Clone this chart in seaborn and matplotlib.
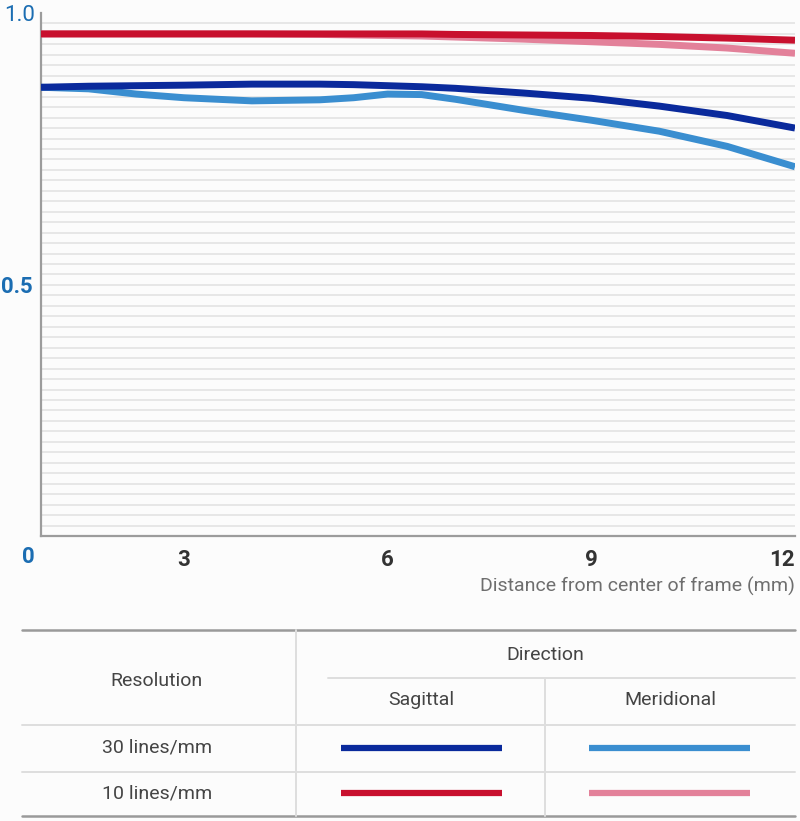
import numpy as np
import pandas as pd
import matplotlib
matplotlib.use("Agg")
import matplotlib.pyplot as plt
import matplotlib.transforms as mtrans
import seaborn as sns

# ---------------- data ----------------
distance_mm = [0, 1, 2, 3, 4, 5, 5.5, 6, 6.5, 7, 8, 9, 10, 11, 12]
sagittal_30 = [0.858, 0.860, 0.861, 0.862, 0.864, 0.864, 0.863, 0.861, 0.859, 0.856, 0.847, 0.837, 0.822, 0.804, 0.780]
meridional_30 = [0.858, 0.855, 0.845, 0.838, 0.832, 0.834, 0.838, 0.845, 0.844, 0.835, 0.814, 0.795, 0.774, 0.745, 0.706]
sagittal_10 = [0.960, 0.960, 0.960, 0.960, 0.960, 0.960, 0.960, 0.960, 0.960, 0.959, 0.958, 0.957, 0.955, 0.952, 0.948]
meridional_10 = [0.960, 0.960, 0.960, 0.960, 0.960, 0.959, 0.958, 0.957, 0.956, 0.954, 0.950, 0.945, 0.940, 0.933, 0.923]

series_names = ["30 M", "10 M", "30 S", "10 S"]
series_colors = {"30 S": "#0a2a9c", "30 M": "#3a8ed0", "10 S": "#c8102e", "10 M": "#e3819a"}
x_tick_labels = ["3", "6", "9", "12"]
x_ticks = [3, 6, 9, 12]
y_ticks = [0.5, 1.0]
y_tick_labels = ["0.5", "1.0"]
row_labels = ["30 lines/mm", "10 lines/mm"]
direction_labels = ["Sagittal", "Meridional"]

df = pd.concat([
    pd.DataFrame({"x": distance_mm, "y": meridional_30, "series": "30 M"}),
    pd.DataFrame({"x": distance_mm, "y": meridional_10, "series": "10 M"}),
    pd.DataFrame({"x": distance_mm, "y": sagittal_30, "series": "30 S"}),
    pd.DataFrame({"x": distance_mm, "y": sagittal_10, "series": "10 S"}),
])

# ---------------- style ----------------
sns.set_theme(style="white")
plt.rcParams["font.family"] = ["Roboto", "DejaVu Sans"]
BG = "#fcfcfc"

fig = plt.figure(figsize=(8, 8.21), dpi=100, facecolor=BG)
W, H = 800, 821
ax = fig.add_axes([41 / W, 1 - 536 / H, (795 - 41) / W, (536 - 13) / H])
ax.set_facecolor(BG)

# x axis: first 3 mm segment is drawn compressed in the original chart
seg0 = 143.0
seg = 203.7

def fwd(x):
    x = np.asarray(x, dtype=float)
    return np.where(x < 3, x * seg0 / 3, seg0 + (x - 3) * seg / 3)

def inv(p):
    p = np.asarray(p, dtype=float)
    return np.where(p < seg0, p * 3 / seg0, 3 + (p - seg0) * 3 / seg)

ax.set_xscale("function", functions=(fwd, inv))

sns.lineplot(data=df, x="x", y="y", hue="series", hue_order=series_names,
             palette=series_colors, linewidth=5, legend=False, sort=False,
             estimator=None, ax=ax, solid_capstyle="butt", solid_joinstyle="round", zorder=3)

ax.set_xlim(0, 12)
ax.set_ylim(0, 1.0)

# grid
ax.yaxis.remove_overlapping_locs = False
ax.set_yticks(np.arange(0.02, 0.99, 0.02), minor=True)
ax.set_xticks([3, 6, 9], minor=True)
ax.grid(False)
ax.grid(which="minor", axis="y", color="#e3e3e3", linewidth=1.2, zorder=0)
ax.grid(which="minor", axis="x", color="#dedede", linewidth=1.4, zorder=0)

ax.set_xticks(x_ticks)
ax.set_xticklabels(x_tick_labels, fontsize=16, fontweight="bold", color="#333333")
ax.set_yticks(y_ticks)
ax.set_yticklabels(y_tick_labels, fontsize=16, color="#1b6db2")
ax.tick_params(axis="both", which="both", length=0)
ax.tick_params(axis="x", pad=9)
ax.tick_params(axis="y", pad=6)
for lbl in ax.get_yticklabels():
    if lbl.get_text() == "0.5":
        lbl.set_fontweight("bold")
        lbl.set_transform(lbl.get_transform() + mtrans.ScaledTranslation(0, -10 / 100, fig.dpi_scale_trans))
    else:
        lbl.set_transform(lbl.get_transform() + mtrans.ScaledTranslation(2 / 100, 0, fig.dpi_scale_trans))
for lbl in ax.get_xticklabels():
    if lbl.get_text() == "12":
        lbl.set_horizontalalignment("right")

ax.annotate("0", xy=(0, 0), xytext=(-13, -21), textcoords="offset pixels",
            ha="center", va="center", fontsize=16, fontweight="bold", color="#1b6db2")

for s in ["top", "right"]:
    ax.spines[s].set_visible(False)
for s in ["left", "bottom"]:
    ax.spines[s].set_color("#9c9c9c")
    ax.spines[s].set_linewidth(1.6)

ax.set_xlabel("")
ax.set_ylabel("")
fig.text(795 / W, 1 - 586 / H, "Distance from center of frame (mm)", ha="right", va="center",
         fontsize=14, color="#6e6e6e")

# ---------------- legend table ----------------
tab = fig.add_axes([0, 0, 1, 1], zorder=-1)
tab.set_xlim(0, W)
tab.set_ylim(H, 0)
tab.axis("off")

dark = "#9a9a9a"
light = "#dedede"
tab.plot([22, 795], [630, 630], color=dark, lw=1.8)
tab.plot([22, 795], [816, 816], color=dark, lw=1.8)
tab.plot([328, 795], [678, 678], color=light, lw=1.4)
tab.plot([22, 795], [725, 725], color=light, lw=1.4)
tab.plot([22, 795], [772, 772], color=light, lw=1.4)
tab.plot([296, 296], [630, 816], color=light, lw=1.4)
tab.plot([545, 545], [678, 816], color=light, lw=1.4)

tc = "#444444"
fs = 14
tab.text(157, 681, "Resolution", ha="center", va="center", fontsize=fs, color=tc)
tab.text(545, 655, "Direction", ha="center", va="center", fontsize=fs, color=tc)
tab.text(421, 700, direction_labels[0], ha="center", va="center", fontsize=fs, color=tc)
tab.text(670, 700, direction_labels[1], ha="center", va="center", fontsize=fs, color=tc)
tab.text(157, 748, row_labels[0], ha="center", va="center", fontsize=fs, color=tc)
tab.text(157, 793, row_labels[1], ha="center", va="center", fontsize=fs, color=tc)

tab.plot([341, 502], [748, 748], color=series_colors["30 S"], lw=4.5, solid_capstyle="butt")
tab.plot([589, 750], [748, 748], color=series_colors["30 M"], lw=4.5, solid_capstyle="butt")
tab.plot([341, 502], [793, 793], color=series_colors["10 S"], lw=4.5, solid_capstyle="butt")
tab.plot([589, 750], [793, 793], color=series_colors["10 M"], lw=4.5, solid_capstyle="butt")

fig.savefig("out.png", dpi=100, facecolor=BG)
